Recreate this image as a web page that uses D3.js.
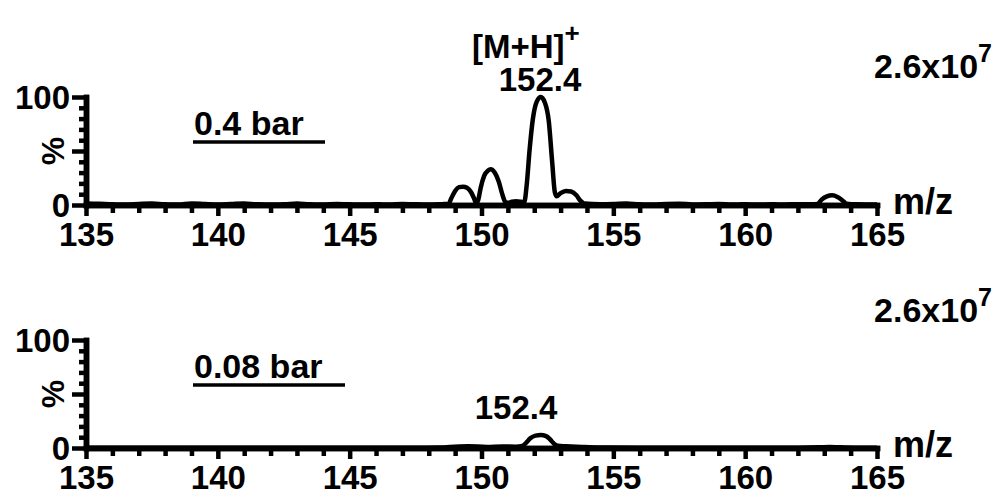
<!DOCTYPE html>
<html>
<head>
<meta charset="utf-8">
<script src="https://cdn.jsdelivr.net/npm/d3@7"></script>
<style>
  body { margin: 0; background: #fff; }
  svg text { font-family: "Liberation Sans", Arial, sans-serif; font-weight: bold; fill: #000; }
</style>
</head>
<body>
<svg id="chart" width="997" height="497"></svg>
<script>
// m/z axis
var xMajor = [135, 140, 145, 150, 155, 160, 165];
var xMinor = [136, 137, 138, 139, 141, 142, 143, 144, 146, 147, 148, 149,
              151, 152, 153, 154, 156, 157, 158, 159, 161, 162, 163, 164];
var yMajor = [0, 50, 100];
var yLabels = [0, 100];
var yMinor = [10, 20, 30, 40, 60, 70, 80, 90];

// spectrum at 0.4 bar  [m/z, %]
var spec04 = [
  [135.0, 1.5], [135.5, 1.2], [136.0, 0.6], [136.5, 0.5], [137.0, 1.0], [137.5, 1.4],
  [138.0, 0.6], [138.5, 0.5], [139.0, 1.5], [139.5, 1.0], [140.0, 0.5], [140.5, 1.0],
  [141.0, 1.5], [141.5, 0.6], [142.0, 0.5], [142.5, 0.6], [143.0, 1.5], [143.5, 0.6],
  [144.0, 0.5], [144.5, 1.0], [145.0, 0.6], [145.5, 0.5], [146.0, 0.6], [146.5, 0.5],
  [147.0, 1.0], [147.5, 0.6], [148.0, 0.5], [148.5, 0.8], [148.75, 1.0],
  [148.85, 6], [149.0, 13], [149.15, 16.5], [149.3, 17], [149.45, 16], [149.6, 12],
  [149.72, 6], [149.8, 1.5],
  [149.88, 5], [149.97, 16], [150.1, 27], [150.25, 32], [150.35, 33], [150.5, 30],
  [150.65, 22], [150.8, 9], [150.9, 3], [151.0, 2],
  [151.15, 3], [151.3, 3.5], [151.5, 3], [151.62, 2.5],
  [151.72, 20], [151.82, 50], [151.95, 80], [152.1, 96], [152.25, 100], [152.4, 95],
  [152.55, 78], [152.68, 40], [152.78, 12], [152.85, 8],
  [153.0, 11], [153.2, 13], [153.4, 12.5], [153.6, 9], [153.75, 4], [153.9, 1.5],
  [154.5, 0.8], [155.0, 1.0], [155.5, 1.5], [156.0, 0.6], [156.5, 0.5], [157.0, 1.0],
  [157.5, 1.2], [158.0, 0.5], [158.5, 0.6], [159.0, 1.0], [159.5, 0.5], [160.0, 0.6],
  [160.5, 0.5], [161.0, 0.6], [161.5, 0.5], [162.0, 0.8], [162.5, 0.6], [162.75, 1.0],
  [162.9, 5], [163.1, 8], [163.3, 9], [163.5, 7.5], [163.7, 4], [163.85, 1.2],
  [164.2, 0.6], [164.6, 0.5], [165.0, 0.5]
];

// spectrum at 0.08 bar  [m/z, %]
var spec008 = [
  [135.0, 0.3], [137.0, 0.3], [139.0, 0.3], [141.0, 0.3], [143.0, 0.3], [145.0, 0.3],
  [147.0, 0.3], [148.5, 0.4], [148.8, 1.0], [149.5, 1.6], [150.2, 1.0], [150.8, 1.5],
  [151.3, 1.2], [151.55, 2.0], [151.7, 5], [151.85, 9], [152.05, 11.5], [152.25, 12],
  [152.45, 11], [152.6, 8], [152.75, 4], [152.9, 2.0], [153.2, 1.6], [153.8, 1.0],
  [154.5, 0.5], [156.0, 0.3], [158.0, 0.3], [160.0, 0.3], [162.0, 0.3], [162.8, 0.6],
  [163.2, 1.0], [163.6, 0.6], [164.2, 0.3], [165.0, 0.3]
];

var panels = [
  { data: spec04,  y0: 205, y100: 97,  pressure: '0.4 bar',  presW: 132, peakLabel: '152.4',
    ion: true,  labelX: 540, labelY: 91, scaleY: 78 },
  { data: spec008, y0: 448, y100: 340, pressure: '0.08 bar', presW: 152, peakLabel: '152.4',
    ion: false, labelX: 516, labelY: 419, scaleY: 322 }
];

var svg = d3.select('#chart');

var x = d3.scaleLinear().domain([135, 165]).range([86, 877]);

panels.forEach(function (p) {
  var y = d3.scaleLinear().domain([0, 100]).range([p.y0, p.y100]);
  var g = svg.append('g');

  // spectrum trace
  var line = d3.line()
    .x(function (d) { return x(d[0]); })
    .y(function (d) { return y(d[1]); })
    .curve(d3.curveMonotoneX);

  g.append('path')
    .datum(p.data)
    .attr('d', line)
    .attr('fill', 'none')
    .attr('stroke', '#000')
    .attr('stroke-width', 4.5)
    .attr('stroke-linejoin', 'round');

  // x axis, minor then major
  var xMin = g.append('g')
    .attr('transform', 'translate(0,' + p.y0 + ')')
    .call(d3.axisBottom(x).tickValues(xMinor).tickSize(8).tickSizeOuter(0).tickFormat(''));
  var xMaj = g.append('g')
    .attr('transform', 'translate(0,' + p.y0 + ')')
    .call(d3.axisBottom(x).tickValues(xMajor).tickSize(11).tickSizeOuter(0).tickPadding(7));

  // y axis
  var yMin = g.append('g')
    .attr('transform', 'translate(' + x(135) + ',0)')
    .call(d3.axisLeft(y).tickValues(yMinor).tickSize(7).tickSizeOuter(0).tickFormat(''));
  var yMaj = g.append('g')
    .attr('transform', 'translate(' + x(135) + ',0)')
    .call(d3.axisLeft(y).tickValues(yMajor).tickSize(14).tickSizeOuter(0).tickPadding(2)
      .tickFormat(function (d) { return yLabels.indexOf(d) >= 0 ? d : ''; }));

  [xMin, xMaj, yMin, yMaj].forEach(function (a) {
    a.select('.domain').attr('stroke', '#000').attr('stroke-width', 5.5).attr('stroke-linecap', 'square');
    a.selectAll('.tick line').attr('stroke', '#000').attr('stroke-width', 4.5);
  });
  xMaj.selectAll('.tick text')
    .style('font-size', '33px')
    .attr('dy', '0.71em');
  yMaj.selectAll('.tick text')
    .style('font-size', '33px')
    .attr('dy', '0.36em');

  // % label
  g.append('text')
    .attr('transform', 'translate(' + 64 + ',' + y(50) + ') rotate(-90)')
    .attr('text-anchor', 'middle')
    .style('font-size', '32px')
    .text('%');

  // m/z
  g.append('text')
    .attr('x', 893)
    .attr('y', p.y0 + 9)
    .style('font-size', '36px')
    .text('m/z');

  // pressure label, underlined
  g.append('text')
    .attr('x', 194)
    .attr('y', y(100) + 38)
    .style('font-size', '34px')
    .text(p.pressure);
  g.append('line')
    .attr('x1', 193)
    .attr('x2', 193 + p.presW)
    .attr('y1', y(100) + 45)
    .attr('y2', y(100) + 45)
    .attr('stroke', '#000')
    .attr('stroke-width', 3.5);

  // full scale intensity
  var sc = g.append('text')
    .attr('x', 992)
    .attr('y', p.scaleY)
    .attr('text-anchor', 'end')
    .style('font-size', '34px');
  sc.append('tspan').text('2.6x10');
  sc.append('tspan').attr('dy', -16).style('font-size', '25px').text('7');

  // peak annotation
  g.append('text')
    .attr('x', p.labelX)
    .attr('y', p.labelY)
    .attr('text-anchor', 'middle')
    .style('font-size', '33px')
    .text(p.peakLabel);

  if (p.ion) {
    var ion = g.append('text')
      .attr('x', 472)
      .attr('y', 58)
      .style('font-size', '33px');
    ion.append('tspan').text('[M+H]');
    ion.append('tspan').attr('dy', -16).style('font-size', '26px').text('+');
  }
});
</script>
</body>
</html>
